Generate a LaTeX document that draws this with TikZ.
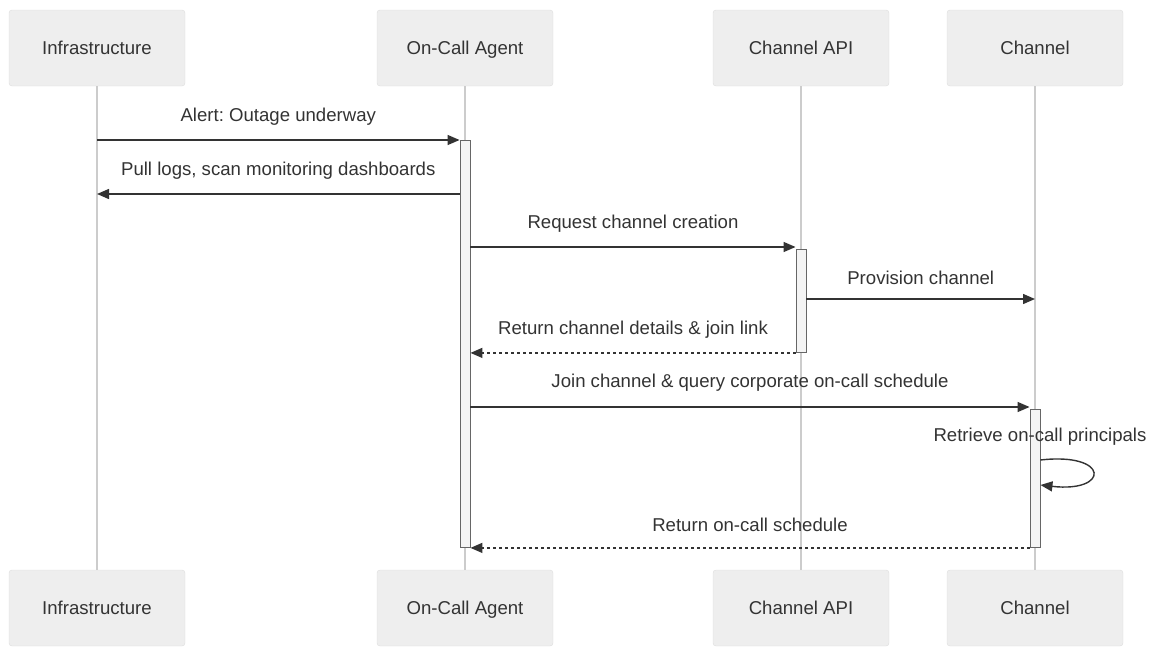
\documentclass[tikz,border=0pt]{standalone}
\usepackage{fontspec}
\setmainfont{Liberation Sans}
\frenchspacing
\usetikzlibrary{positioning,calc,arrows.meta}
\definecolor{txt}{HTML}{333333}
\definecolor{boxfill}{HTML}{EEEEEE}
\definecolor{boxline}{HTML}{DDDDDD}
\definecolor{lifegray}{HTML}{CCCCCC}
\definecolor{actfill}{HTML}{F4F4F4}
\definecolor{actline}{HTML}{666666}
\begin{document}
\begin{tikzpicture}[x=1pt,y=-1pt,
		actor/.style={draw=boxline, fill=boxfill, rounded corners=3pt, minimum width=176pt, minimum height=76pt, text=txt, text height=13pt, text depth=0pt, font=\fontsize{18.6}{22}\selectfont},
		life/.style={draw=lifegray, line width=1.5pt},
		act/.style={draw=actline, fill=actfill, line width=0.9pt, minimum width=10pt, inner sep=0pt, anchor=north},
		msg/.style={draw=txt, line width=1.4pt, -{Triangle[length=12pt,width=10pt]}},
		reply/.style={msg, dash pattern=on 3pt off 3pt},
		lbl/.style={text=txt, font=\fontsize{18.6}{22}\selectfont}]
				\useasboundingbox (0,0) rectangle (1152,646);
				% actors, top and bottom
				\node[actor] (infraT) at (97,48) {Infrastructure};
				\node[actor] (agentT) at (465,48) {On-Call Agent};
				\node[actor] (apiT) at (801,48) {Channel API};
				\node[actor] (chanT) at (1035,48) {Channel};
				\node[actor] (infraB) at (97,608) {Infrastructure};
				\node[actor] (agentB) at (465,608) {On-Call Agent};
				\node[actor] (apiB) at (801,608) {Channel API};
				\node[actor] (chanB) at (1035,608) {Channel};
				% lifelines
				\draw[life] (infraT) -- (infraB);
				\draw[life] (agentT) -- (agentB);
				\draw[life] (apiT) -- (apiB);
				\draw[life] (chanT) -- (chanB);
				% activations
				\node[act, minimum height=407pt] (actAgent) at (465,140) {};
				\node[act, minimum height=103pt] (actApi) at (801,249) {};
				\node[act, minimum height=138pt] (actChan) at (1035,409) {};
				% messages
				\draw[msg] (infraT |- 0,140) -- (actAgent.north west) node[lbl, midway, yshift=23pt] {Alert: Outage underway};
				\draw[msg] (actAgent.west |- 0,194) -- (infraT |- 0,194) node[lbl, midway, yshift=23pt] {Pull logs, scan monitoring dashboards};
				\draw[msg] (actAgent.east |- 0,247) -- (actApi.west |- 0,247) node[lbl, midway, yshift=23pt] {Request channel creation};
				\draw[msg] (actApi.east |- 0,299) -- (chanT |- 0,299) node[lbl, midway, yshift=21pt] {Provision channel};
				\draw[reply] (actApi.south west) -- (actAgent.east |- actApi.south) node[lbl, midway, yshift=23pt] {Return channel details \& join link};
				\draw[msg] (actAgent.east |- 0,407) -- (actChan.west |- 0,407) node[lbl, midway, yshift=24pt] {Join channel \& query corporate on-call schedule};
				\node[lbl] (selfLbl) at (1040,437) {Retrieve on-call principals};
				\coordinate (loopA) at (actChan.east |- 0,460);
				\coordinate (loopB) at (actChan.east |- 0,485);
				\draw[msg] (loopA) .. controls (1110,452) and (1110,493) .. (loopB);
				\draw[reply] (actChan.south west) -- (actAgent.east |- actChan.south) node[lbl, midway, yshift=23pt] {Return on-call schedule};
				\end{tikzpicture}
\end{document}
